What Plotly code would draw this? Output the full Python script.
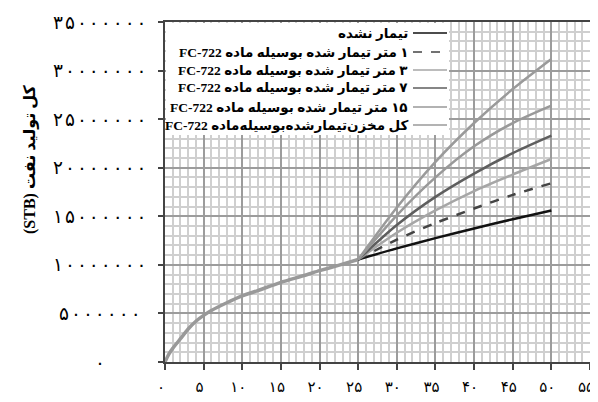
import plotly.graph_objects as go

# ---------------- data (cumulative oil production, million STB) ----------------
x_hist = [0, 0.5, 1, 2, 3, 4, 5, 6, 8, 10, 12, 15, 18, 20, 22, 25]
y_hist = [0, 0.8, 1.4, 2.4, 3.4, 4.2, 4.8, 5.3, 6.1, 6.8, 7.35, 8.2, 8.9, 9.4, 9.85, 10.55]

x_pred = [25, 30, 35, 40, 45, 50]
y_untreated = [10.55, 11.7, 12.75, 13.75, 14.7, 15.6]
y_1m = [10.55, 12.6, 14.3, 15.8, 17.2, 18.4]
y_3m = [10.55, 13.3, 15.6, 17.6, 19.3, 20.9]
y_7m = [10.55, 14.1, 17.0, 19.4, 21.5, 23.3]
y_15m = [10.55, 15.1, 19.0, 22.2, 24.6, 26.4]
y_whole = [10.55, 15.9, 20.6, 24.6, 28.1, 31.2]

series_names = [
    "تیمار نشده",
    "۱ متر تیمار شده بوسیله ماده FC-722",
    "۳ متر تیمار شده بوسیله ماده FC-722",
    "۷ متر تیمار شده بوسیله ماده FC-722",
    "۱۵ متر تیمار شده بوسیله ماده FC-722",
    "کل مخزن\u200cتیمارشده\u200cبوسیله\u200cماده FC-722",
]
series_values = [y_untreated, y_1m, y_3m, y_7m, y_15m, y_whole]
series_colors = ["#111111", "#444444", "#a6a6a6", "#5e5e5e", "#999999", "#9a9a9a"]
series_dash = ["solid", "dash", "solid", "solid", "solid", "solid"]

x_tickvals = [0, 5, 10, 15, 20, 25, 30, 35, 40, 45, 50, 55]
x_ticktext = ["۰", "۵", "۱۰", "۱۵", "۲۰", "۲۵", "۳۰", "۳۵", "۴۰", "۴۵", "۵۰", "۵۵"]
y_tickvals = [0, 5e6, 10e6, 15e6, 20e6, 25e6, 30e6, 35e6]
y_ticktext = ["۰", "۵۰۰۰۰۰۰", "۱۰۰۰۰۰۰۰", "۱۵۰۰۰۰۰۰", "۲۰۰۰۰۰۰۰",
              "۲۵۰۰۰۰۰۰", "۳۰۰۰۰۰۰۰", "۳۵۰۰۰۰۰۰"]
y_title = "کل تولید نفت (STB)"

RLE, PDF = "\u202b", "\u202c"
GAP = '<span style="font-size:10px">\u2009</span>'  # small gap between digits

# the page body has an 8px margin, so the figure is 8px smaller
OFF = 8
W, H = 598 - OFF, 402 - OFF
# plot area in window pixels: left 165, right 590, top 22, bottom 362
ML, MT = 165 - OFF, 22 - OFF
MR = (OFF + W) - 590
MB = (OFF + H) - 362
PW, PH = 590 - 165, 362 - 22


def px(xw):
    return (xw - 165) / PW


def py(yw):
    return (362 - yw) / PH


fig = go.Figure()

fig.add_trace(go.Scatter(
    x=x_hist, y=[v * 1e6 for v in y_hist], mode="lines",
    line=dict(color="#999999", width=3.5, shape="spline", smoothing=0.6),
    showlegend=False, hoverinfo="skip"))

for name, vals, col, dash in zip(series_names, series_values, series_colors, series_dash):
    fig.add_trace(go.Scatter(
        x=x_pred, y=[v * 1e6 for v in vals], mode="lines", name=name,
        line=dict(color=col, width=2.5, dash=dash, shape="spline", smoothing=0.8),
        showlegend=False))

shapes = []
annotations = []

# manual right-to-left legend
shapes.append(dict(type="rect", xref="paper", yref="paper",
                   x0=px(166), x1=px(449), y0=py(135), y1=py(23),
                   fillcolor="white", line=dict(width=0), layer="above"))
row_y = [33, 52, 70, 88, 107, 125]
for i, (name, col, dash) in enumerate(zip(series_names, series_colors, series_dash)):
    yy = py(row_y[i])
    shapes.append(dict(type="line", xref="paper", yref="paper",
                       x0=px(413), x1=px(447), y0=yy, y1=yy,
                       line=dict(color=col, width=1.5, dash=dash), layer="above"))
    annotations.append(dict(xref="paper", yref="paper", x=px(410), y=yy,
                            xanchor="right", yanchor="middle", showarrow=False,
                            text="<b>" + RLE + name + PDF + "</b>",
                            font=dict(family="Liberation Serif, DejaVu Sans", size=13.5,
                                      color="black")))

# y tick labels (centred, as in the reference)
for v, t in zip(y_tickvals, y_ticktext):
    annotations.append(dict(xref="paper", yref="y", x=0, xshift=-65, y=v,
                            xanchor="center", yanchor="middle", showarrow=False,
                            text=GAP.join(t),
                            font=dict(family="DejaVu Sans", size=18.5, color="black")))

# y axis title
annotations.append(dict(xref="paper", yref="paper", x=0, xshift=-135, y=py(160),
                        xanchor="center", yanchor="middle", showarrow=False,
                        textangle=-90, text="<b>" + RLE + y_title + PDF + "</b>",
                        font=dict(family="Liberation Serif, DejaVu Sans", size=16,
                                  color="black")))

fig.update_layout(
    width=W, height=H,
    margin=dict(l=ML, r=MR, t=MT, b=MB),
    plot_bgcolor="white", paper_bgcolor="white",
    shapes=shapes, annotations=annotations,
    showlegend=False,
)
fig.update_xaxes(
    range=[0, 55], tickvals=x_tickvals, ticktext=x_ticktext,
    tickfont=dict(family="DejaVu Sans", size=15, color="black"),
    ticks="outside", ticklen=6, tickwidth=1.5, tickcolor="#444444",
    ticklabelstandoff=4, ticklabeloverflow="allow", ticklabelshift=-4,
    showline=True, linecolor="#444444", linewidth=2, mirror=True,
    showgrid=True, gridcolor="#9c9c9c", gridwidth=1.5,
    minor=dict(dtick=1, showgrid=True, gridcolor="#cfcfcf", gridwidth=2),
    zeroline=False, automargin=False,
)
fig.update_yaxes(
    range=[0, 35e6], tickvals=y_tickvals, showticklabels=False,
    ticks="outside", ticklen=5, tickwidth=1.5, tickcolor="#444444",
    showline=True, linecolor="#444444", linewidth=2, mirror=True,
    showgrid=True, gridcolor="#9c9c9c", gridwidth=1.5,
    minor=dict(dtick=1e6, showgrid=True, gridcolor="#cfcfcf", gridwidth=2),
    zeroline=False, automargin=False,
)

fig.write_html("out.html")
